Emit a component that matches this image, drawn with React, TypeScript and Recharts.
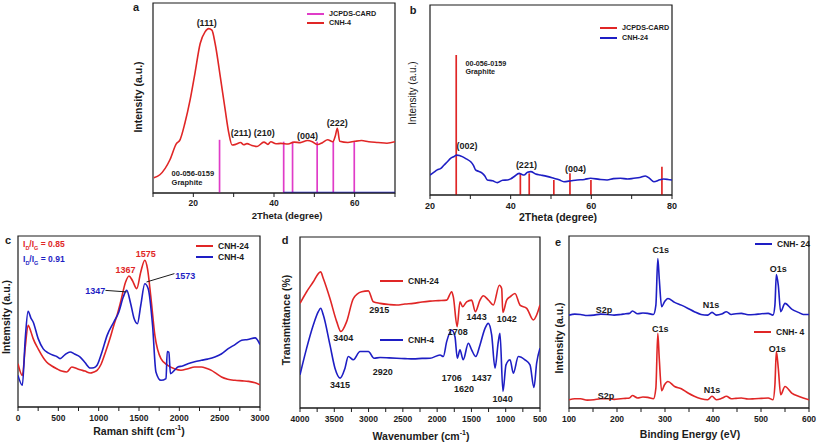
import React from "react";
import {
  LineChart,
  Line,
  XAxis,
  YAxis,
  ReferenceLine,
  ReferenceDot,
  ReferenceArea,
} from "recharts";

const FONT = "'Liberation Sans', Arial, Helvetica, sans-serif";
const INK = "#1b1b1b";
const RED = "#e02626";
const BLUE = "#1e1ec4";
const MAGENTA = "#e03cc8";

// ---------- a: XRD CNH-4 ----------
const xrdCnh4: [number, number][] = [
  [10.2, 8], [11.7, 9.6], [14.2, 17.5], [15.8, 26], [16.7, 28], [17.9, 36.7], [19.2, 49],
  [20.4, 63], [21.7, 78.7], [22.9, 84.8], [23.8, 86.5], [24.6, 85.7], [25.4, 78.7],
  [26.7, 61], [27.9, 43.7], [28.8, 31.5], [29.6, 25.3], [30.5, 25.6], [31.7, 26.6],
  [32.5, 25.4], [33.3, 26], [34.5, 25], [35.8, 24.5], [37.5, 26.8], [38.5, 25.6],
  [39.2, 27], [40.5, 25.9], [41.7, 26.1], [43.5, 25.8], [45, 26.8], [46.5, 26.5],
  [48.3, 27.6], [49.5, 27], [50.8, 25.5], [52, 26.5], [53.3, 28], [54.6, 27], [55.2, 30],
  [55.7, 34], [56.3, 27.2], [58.3, 26.6], [60, 27.2], [61.7, 27.6], [63.5, 27],
  [65.8, 26.6], [68, 26.2], [70, 27],
];
const cardAPos = [26.5, 42.4, 44.6, 50.7, 54.7, 59.9];
const cardAHeight = [28, 27, 27, 27, 27, 27];
const peaksA: [string, number, number][] = [
  ["(111)", 23.3, 89.5], ["(211)", 31.8, 31.5], ["(210)", 37.6, 31.8],
  ["(004)", 48.3, 30], ["(222)", 55.7, 37],
];

// ---------- b: XRD CNH-24 ----------
const xrdCnh24: [number, number][] = [
  [20, 10.5], [21, 12], [21.8, 13.2], [22.7, 14], [23.5, 15.8], [24.3, 17.5], [25.1, 19.3],
  [26, 20.3], [26.6, 21], [27.3, 20.8], [28, 20.2], [29, 19], [30.1, 17.5], [30.8, 15.5],
  [31.3, 13.2], [32, 12.5], [33, 11.4], [33.6, 10], [34.2, 7.9], [35.5, 7.5], [36.7, 6.5],
  [38, 7.8], [39.2, 7.9], [40, 8.5], [40.8, 9.6], [42.1, 11.4], [42.8, 10.8], [43.3, 10.5],
  [44.2, 12], [45, 12.3], [46.2, 11], [47.4, 10.5], [49, 9.8], [50.7, 8.8], [52, 8],
  [53.2, 7], [55, 7.5], [56.5, 7.9], [58.3, 8.2], [59.8, 8.8], [62, 8.2], [63.9, 7.9],
  [65.5, 8.6], [67.2, 8.8], [69, 8.4], [70.5, 8.8], [72, 9.2], [73.4, 10], [74.5, 8.6],
  [75.5, 7], [77, 8], [77.9, 8.4], [79, 8.2], [80, 7.9],
];
const cardBPos = [26.5, 42.4, 44.6, 50.7, 54.7, 59.9, 77.5];
const cardBHeight = [73.7, 11.4, 11.4, 7.9, 11.4, 7.9, 14.9];
const peaksB: [string, number, number][] = [
  ["(002)", 29.2, 26], ["(221)", 43.9, 16.1], ["(004)", 56.1, 13.7],
];

// ---------- c: Raman ----------
const ramanCnh24: [number, number][] = [
  [0, 25.3], [54, 18.5], [90, 35], [125, 47.8], [160, 44], [188, 40], [250, 34], [354, 26.3],
  [420, 24], [480, 22.4], [540, 21], [605, 20.5], [667, 23.4], [720, 22.6], [771, 21.8],
  [830, 21], [896, 19.9], [940, 20.5], [980, 21.4], [1030, 25], [1084, 32], [1140, 40],
  [1188, 47.8], [1230, 54], [1272, 61.4], [1334, 73.1], [1376, 76.6], [1418, 74],
  [1472, 69.2], [1522, 79], [1572, 85.8], [1605, 80.9], [1647, 64.3], [1697, 41.9],
  [1772, 28.3], [1856, 24.4], [1939, 22.4], [2020, 21.5], [2106, 22.4], [2190, 23.4],
  [2273, 23.4], [2340, 22.5], [2398, 21.4], [2460, 19.5], [2523, 17.5], [2600, 16.2],
  [2690, 15.6], [2780, 15.3], [2856, 15], [2940, 14.2], [3000, 13],
];
const ramanCnh4: [number, number][] = [
  [0, 18.5], [54, 12.7], [90, 40], [125, 56], [160, 52], [188, 49.7], [250, 40], [313, 34],
  [380, 31.5], [438, 30.2], [480, 29.5], [521, 28.3], [580, 30.5], [646, 32.2], [700, 31],
  [771, 29.2], [830, 26], [896, 22.8], [940, 23], [980, 24.4], [1040, 32], [1105, 41.9],
  [1188, 49.7], [1250, 55.6], [1305, 64.3], [1347, 68.2], [1397, 60.4], [1439, 51.7],
  [1480, 48.7], [1522, 59.5], [1572, 72.1], [1614, 69.2], [1668, 47.8], [1710, 20.5],
  [1772, 15.6], [1835, 16.6], [1850, 32.5], [1870, 32], [1890, 19.5], [1940, 21.5],
  [1981, 23.4], [2040, 24], [2106, 25.3], [2190, 26.5], [2273, 27.3], [2350, 28],
  [2440, 29.2], [2520, 31], [2606, 34.1], [2690, 36.5], [2773, 39], [2850, 39.5],
  [2940, 40.4], [3000, 36.5],
];

// ---------- d: FTIR ----------
const ftirCnh24: [number, number][] = [
  [4000, 61.2], [3903, 68], [3806, 73.8], [3733, 78.6], [3699, 79.6], [3660, 75.7],
  [3563, 64], [3465, 50.5], [3404, 44.7], [3320, 50.5], [3222, 64], [3101, 68], [3003, 68.5],
  [2931, 62.1], [2833, 61.2], [2700, 60.5], [2590, 60.2], [2470, 60.8], [2347, 61.2],
  [2220, 62], [2104, 62.5], [1980, 62.8], [1861, 63.1], [1788, 68], [1764, 65], [1708, 47.6],
  [1667, 62.1], [1628, 59.2], [1570, 62.1], [1497, 63.1], [1443, 56.3], [1375, 63.1],
  [1327, 65.6], [1250, 63], [1181, 60.2], [1093, 71.8], [1059, 69.9], [1042, 55.9],
  [986, 63.1], [937, 65], [865, 67], [792, 60.2], [694, 58.3], [597, 51.5], [549, 54.4],
  [500, 60.2],
];
const ftirCnh4: [number, number][] = [
  [4000, 19.4], [3903, 35], [3806, 48.5], [3733, 56.3], [3699, 58.3], [3660, 54.4],
  [3563, 36.9], [3490, 23.3], [3415, 17.5], [3344, 23.3], [3296, 30.1], [3222, 28.2],
  [3125, 33], [3003, 33], [2920, 29.1], [2833, 29.5], [2700, 29.3], [2590, 29.1],
  [2470, 28.9], [2347, 28.7], [2220, 29], [2104, 29.1], [1958, 31], [1910, 30.1],
  [1861, 38.8], [1788, 45.6], [1740, 41.7], [1706, 29.1], [1667, 34], [1620, 28.2],
  [1545, 37.9], [1497, 34], [1437, 30.1], [1375, 36.9], [1302, 46.6], [1254, 49.5],
  [1205, 42.7], [1156, 23.3], [1108, 38.8], [1084, 43.7], [1040, 9.7], [996, 25.2],
  [937, 28.2], [889, 20.4], [816, 30.1], [719, 28.2], [646, 25.2], [588, 12], [549, 26.2],
  [500, 35],
];
const bandsD: [string, number, number][] = [
  ["2915", 2843, 57.7], ["3404", 3368, 40.8], ["1708", 1701, 44.3], ["1443", 1424, 53.4],
  ["1042", 986, 52], ["3415", 3417, 13.6], ["2920", 2794, 21.4], ["1706", 1788, 17.5],
  ["1620", 1608, 11.3], ["1437", 1351, 17.5], ["1040", 1045, 5.4],
];

// ---------- e: XPS ----------
const xpsCnh24: [number, number][] = [
  [100, 54], [112, 54.6], [124, 54.4], [138, 53.8], [152, 54], [166, 54.6], [180, 54.4],
  [194, 54], [208, 54.4], [218, 54.8], [226, 55], [232, 56.4], [243, 54.8], [254, 55.2],
  [264, 55], [276, 54.4], [281, 59.8], [285, 86.9], [288, 75.3], [293, 58.9], [299, 61.8],
  [306, 63.7], [320, 61.4], [334, 59.8], [348, 57.9], [361, 56], [375, 54.4], [389, 54],
  [398, 55.6], [407, 54], [418, 54.6], [428, 56], [438, 54.4], [448, 54.8], [459, 55],
  [473, 54.2], [487, 54.4], [501, 54.8], [515, 55], [525, 54], [529, 59.8], [532, 77.6],
  [536, 71.4], [541, 56], [550, 60.8], [564, 57.5], [578, 55.6], [588, 54.4], [600, 54.4],
];
const xpsCnh4: [number, number][] = [
  [100, 4.8], [112, 5.4], [124, 5.4], [138, 4.6], [152, 4.8], [166, 5.4], [180, 5.4],
  [194, 5], [208, 5.4], [218, 5.6], [226, 5.8], [232, 7.3], [243, 5.8], [254, 6.4],
  [264, 6.2], [276, 5.4], [281, 11.6], [285, 43.4], [288, 29], [293, 10], [299, 13.5],
  [306, 15.4], [320, 12.5], [334, 11.2], [348, 8.7], [361, 6.8], [375, 5.4], [389, 4.8],
  [398, 6.8], [407, 4.8], [418, 5.6], [428, 6.8], [438, 5.4], [448, 5.6], [459, 5.8],
  [473, 5.2], [487, 5.4], [501, 5.6], [515, 5.8], [525, 4.8], [529, 13.5], [532, 32.8],
  [536, 23.2], [541, 7.7], [550, 12.5], [564, 8.7], [578, 6.8], [588, 5.8], [600, 4.8],
];
const levelsE: [string, number, number][] = [
  ["C1s", 291, 91.7], ["S2p", 173, 57], ["N1s", 396, 59.8], ["O1s", 536, 81],
  ["C1s", 290, 45.9], ["S2p", 177, 7.3], ["N1s", 398, 10.6], ["O1s", 534, 34.7],
];

const rows = (pairs: [number, number][]) => pairs.map(([x, y]) => ({ x, y }));
const range = (a: number, b: number, s: number) => {
  const out: number[] = [];
  for (let v = a; v <= b; v += s) out.push(v);
  return out;
};

const PAD = { top: 20, right: 20, bottom: 6, left: 20 };
const AXIS_H = 22;

type Box = { left: number; top: number; width: number; height: number };

function Plot({ box, domain, ticks, majors, reversed = false, fontSize = 8.5, tickMargin = 4, children }: any) {
  const width = box.width + PAD.left + PAD.right;
  const height = box.height + PAD.top + PAD.bottom + AXIS_H;
  return (
    <div style={{ position: "absolute", left: box.left - PAD.left, top: box.top - PAD.top }}>
      <LineChart width={width} height={height} margin={PAD}>
        <XAxis
          type="number"
          dataKey="x"
          domain={domain}
          ticks={ticks}
          interval={0}
          reversed={reversed}
          allowDataOverflow
          height={AXIS_H}
          stroke={INK}
          tickSize={4}
          tickMargin={tickMargin}
          tickFormatter={(v: number) => (majors.includes(v) ? String(v) : "")}
          tick={{ fill: INK, fontSize, fontWeight: 700, fontFamily: FONT }}
        />
        <YAxis type="number" domain={[0, 100]} hide allowDataOverflow />
        <ReferenceArea
          x1={domain[0]}
          x2={domain[1]}
          y1={0}
          y2={100}
          fill="none"
          stroke={INK}
          strokeWidth={1.2}
          fillOpacity={0}
          ifOverflow="visible"
        />
        {children}
      </LineChart>
    </div>
  );
}

const note = (key: string, x: number, y: number, value: string, fill = INK, fontSize = 9, position: any = "center") => (
  <ReferenceDot
    key={key}
    x={x}
    y={y}
    r={0}
    fill="none"
    stroke="none"
    ifOverflow="visible"
    label={{ value, position, offset: 0, fill, fontSize, fontWeight: 700, fontFamily: FONT }}
  />
);

const curve = (key: string, pairs: [number, number][], color: string) => (
  <Line
    key={key}
    data={rows(pairs)}
    dataKey="y"
    type="monotone"
    stroke={color}
    strokeWidth={1.6}
    dot={false}
    isAnimationActive={false}
  />
);

const sticks = (key: string, pos: number[], h: number[], color: string) =>
  pos.map((x, i) => (
    <ReferenceLine
      key={`${key}${i}`}
      segment={[{ x, y: 0 }, { x, y: h[i] }]}
      stroke={color}
      strokeWidth={1.7}
      ifOverflow="visible"
    />
  ));

function Txt({ x, y, children, size = 10, color = INK, weight = 700, anchor = "middle", rotate = false }: any) {
  const tx = anchor === "start" ? "0" : "-50%";
  return (
    <div
      style={{
        position: "absolute",
        left: x,
        top: y,
        transform: `translate(${tx}, -50%)${rotate ? " rotate(-90deg)" : ""}`,
        fontSize: size,
        fontWeight: weight,
        color,
        fontFamily: FONT,
        whiteSpace: "nowrap",
        lineHeight: 1,
      }}
    >
      {children}
    </div>
  );
}

function Key({ x, y, color, label, size = 7.5, len = 17 }: any) {
  return (
    <>
      <div style={{ position: "absolute", left: x, top: y - 1, width: len, height: 2, background: color }} />
      <Txt x={x + len + 5} y={y} size={size} anchor="start">{label}</Txt>
    </>
  );
}

const boxA: Box = { left: 153, top: 3, width: 242, height: 190 };
const boxB: Box = { left: 430, top: 5, width: 242, height: 190 };
const boxC: Box = { left: 18, top: 236, width: 242, height: 171 };
const boxD: Box = { left: 300, top: 237, width: 240, height: 171 };
const boxE: Box = { left: 569, top: 236, width: 240, height: 172 };

export default function App() {
  return (
    <div style={{ position: "absolute", left: 0, top: 0, width: 817, height: 443, background: "#fff", overflow: "hidden", fontFamily: FONT }}>
      {/* a */}
      <Plot box={boxA} domain={[10, 70]} ticks={range(10, 70, 10)} majors={[20, 40, 60]} fontSize={8.5} tickMargin={3}>
        {sticks("ca", cardAPos, cardAHeight, MAGENTA)}
        <ReferenceLine segment={[{ x: 42.3, y: 0.4 }, { x: 70, y: 0.4 }]} stroke={BLUE} strokeWidth={1.2} />
        {curve("a", xrdCnh4, RED)}
        {peaksA.map(([t, x, y]) => note(`pa${t}`, x, y, t))}
        {note("ga1", 14.6, 10.5, "00-056-0159", INK, 7.5, "right")}
        {note("ga2", 14.6, 5.6, "Graphite", INK, 7.5, "right")}
      </Plot>
      <Txt x={136} y={7} size={11}>a</Txt>
      <Txt x={138} y={97} size={10.5} rotate>Intensity (a.u.)</Txt>
      <Txt x={287} y={215.5} size={9.5}>2Theta (degree)</Txt>
      <Key x={307} y={14} color={MAGENTA} label="JCPDS-CARD" size={7.2} />
      <Key x={307} y={23} color={RED} label="CNH-4" size={7.2} />

      {/* b */}
      <Plot box={boxB} domain={[20, 80]} ticks={range(20, 80, 10)} majors={[20, 40, 60, 80]} fontSize={9}>
        {sticks("cb", cardBPos, cardBHeight, RED)}
        {curve("b", xrdCnh24, BLUE)}
        {peaksB.map(([t, x, y]) => note(`pb${t}`, x, y, t))}
        {note("gb1", 28.8, 69.3, "00-056-0159", INK, 7.2, "right")}
        {note("gb2", 28.8, 64.9, "Graphite", INK, 7.2, "right")}
      </Plot>
      <Txt x={413} y={10} size={11}>b</Txt>
      <Txt x={413} y={93} size={10} weight={400} rotate>Intensity (a.u.)</Txt>
      <Txt x={558} y={217} size={10.5}>2Theta (degree)</Txt>
      <Key x={600} y={28} color={RED} label="JCPDS-CARD" size={7.2} />
      <Key x={600} y={38} color={BLUE} label="CNH-24" size={7.2} />

      {/* c */}
      <Plot box={boxC} domain={[0, 3000]} ticks={range(0, 3000, 250)} majors={range(0, 3000, 500)}>
        {curve("c24", ramanCnh24, RED)}
        {curve("c4", ramanCnh4, BLUE)}
        <ReferenceLine segment={[{ x: 1084, y: 68.2 }, { x: 1347, y: 67.3 }]} stroke={INK} strokeWidth={1} />
        <ReferenceLine segment={[{ x: 1939, y: 78 }, { x: 1593, y: 73.1 }]} stroke={INK} strokeWidth={1} />
        {note("c1", 1334, 80.3, "1367", RED)}
        {note("c2", 1585, 89.3, "1575", RED)}
        {note("c3", 959, 68.2, "1347", BLUE)}
        {note("c4", 2072, 76.6, "1573", BLUE)}
      </Plot>
      <Txt x={8} y={240} size={11}>c</Txt>
      <Txt x={6} y={317} size={10.5} rotate>Intemsity (a.u.)</Txt>
      <Txt x={139} y={430} size={10.5}>Raman shift (cm<sup style={{ fontSize: 7 }}>-1</sup>)</Txt>
      <Txt x={23} y={246} size={8.5} color={RED} anchor="start">
        I<sub style={{ fontSize: 5.5 }}>D</sub>/I<sub style={{ fontSize: 5.5 }}>G</sub> = 0.85
      </Txt>
      <Txt x={23} y={261} size={8.5} color={BLUE} anchor="start">
        I<sub style={{ fontSize: 5.5 }}>D</sub>/I<sub style={{ fontSize: 5.5 }}>G</sub> = 0.91
      </Txt>
      <Key x={196} y={246} color={RED} label="CNH-24" size={8.5} />
      <Key x={196} y={257} color={BLUE} label="CNH-4" size={8.5} />

      {/* d */}
      <Plot box={boxD} domain={[500, 4000]} ticks={range(500, 4000, 250)} majors={range(500, 4000, 500)} reversed>
        {curve("d24", ftirCnh24, RED)}
        {curve("d4", ftirCnh4, BLUE)}
        {bandsD.map(([t, x, y]) => note(`d${t}`, x, y, t))}
      </Plot>
      <Txt x={285} y={240} size={11}>d</Txt>
      <Txt x={286} y={320} size={10.5} rotate>Transmittance (%)</Txt>
      <Txt x={421} y={435} size={10.5}>Wavenumber (cm<sup style={{ fontSize: 7 }}>-1</sup>)</Txt>
      <Key x={380} y={281} color={RED} label="CNH-24" size={8.5} len={23} />
      <Key x={380} y={340} color={BLUE} label="CNH-4" size={8.5} len={23} />

      {/* e */}
      <Plot box={boxE} domain={[100, 600]} ticks={range(100, 600, 50)} majors={range(100, 600, 100)}>
        {curve("e24", xpsCnh24, BLUE)}
        {curve("e4", xpsCnh4, RED)}
        {levelsE.map(([t, x, y], i) => note(`e${i}`, x, y, t))}
      </Plot>
      <Txt x={558} y={242} size={11}>e</Txt>
      <Txt x={559} y={338} size={10.5} rotate>Intensity (a.u.)</Txt>
      <Txt x={690} y={434} size={10.5}>Binding Energy (eV)</Txt>
      <Key x={755} y={244} color={BLUE} label="CNH- 24" size={8.5} />
      <Key x={754} y={332} color={RED} label="CNH- 4" size={8.5} />
    </div>
  );
}
